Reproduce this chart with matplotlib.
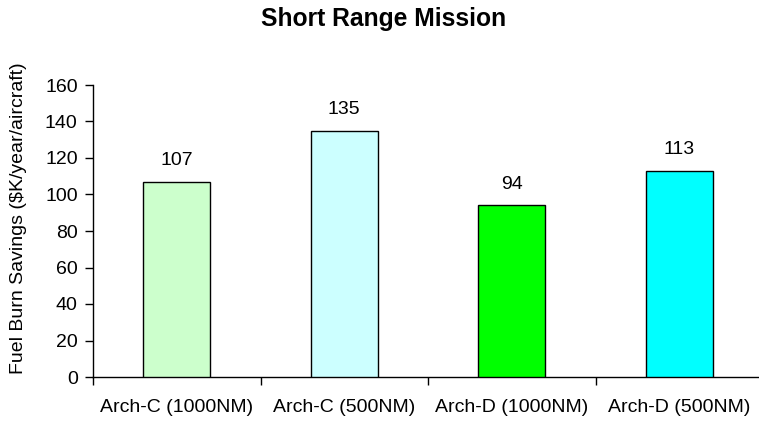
import matplotlib
matplotlib.use("Agg")
import matplotlib.pyplot as plt
import numpy as np

categories = ["Arch-C (1000NM)", "Arch-C (500NM)", "Arch-D (1000NM)", "Arch-D (500NM)"]
savings = [107, 135, 94, 113]
bar_colors = ["#CCFFCC", "#CCFFFF", "#00FF00", "#00FFFF"]
y_ticks = [0, 20, 40, 60, 80, 100, 120, 140, 160]

plt.rcParams["font.family"] = ["Liberation Sans", "DejaVu Sans"]

W, H = 759, 421
fig = plt.figure(figsize=(W / 100, H / 100), dpi=100)
fig.patch.set_facecolor("white")

left_px, right_px, bottom_px, top_px = 93, 763, 377, 85
ax = fig.add_axes([left_px / W, 1 - bottom_px / H,
                   (right_px - left_px) / W, (bottom_px - top_px) / H])

x = np.arange(len(categories)) + 0.5
bars = ax.bar(x, savings, width=0.4, color=bar_colors,
              edgecolor="black", linewidth=1.0, zorder=3)

for xi, v in zip(x, savings):
    ax.annotate(f"{v}", (xi, v), xytext=(0, 9), textcoords="offset points",
                ha="center", va="bottom", fontsize=14)

ax.set_xlim(0, len(categories))
ax.set_ylim(0, 160)
ax.set_yticks(y_ticks)
ax.set_yticklabels([str(t) for t in y_ticks], fontsize=14)

# boundary ticks between categories, labels centred on each bar
ax.set_xticks(np.arange(len(categories) + 1))
ax.set_xticklabels([])
ax.set_xticks(x, minor=True)
ax.set_xticklabels(categories, minor=True, fontsize=14)
ax.tick_params(axis="x", which="major", direction="out", length=6, width=1)
ax.tick_params(axis="x", which="minor", length=0, pad=16)
ax.tick_params(axis="y", direction="out", length=6, width=1, pad=5)

for side in ("top", "right"):
    ax.spines[side].set_visible(False)
for side in ("left", "bottom"):
    ax.spines[side].set_linewidth(1)
    ax.spines[side].set_color("black")

ax.set_ylabel("Fuel Burn Savings ($K/year/aircraft)", fontsize=14)
ax.yaxis.label.set_verticalalignment("center")
ax.yaxis.set_label_coords(-(93 - 19) / (right_px - left_px),
                          (bottom_px - 218.5) / (bottom_px - top_px))

fig.text(384 / W, 1 - 19 / H, "Short Range Mission", ha="center", va="center",
         fontsize=17.7, fontweight="bold")

fig.savefig("out.png", dpi=100, facecolor="white")
